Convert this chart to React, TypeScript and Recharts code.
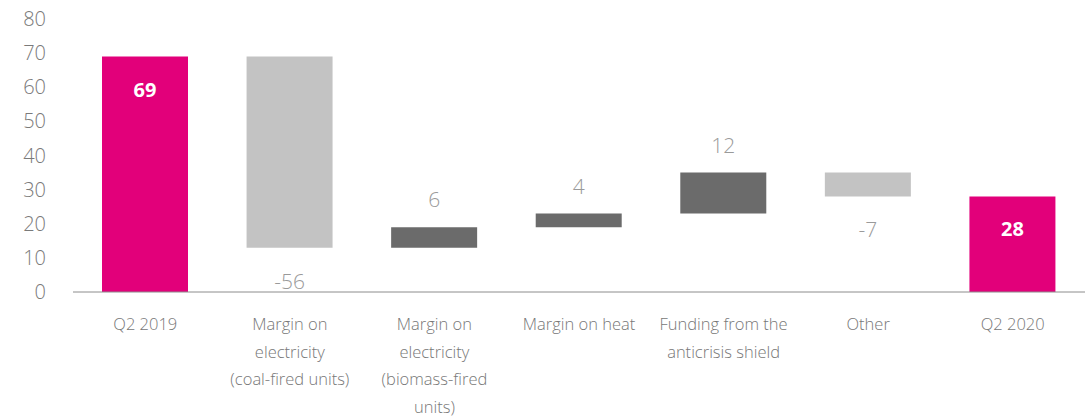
import { BarChart, Bar, XAxis, YAxis, Cell, LabelList } from "recharts";

const categories = [
  ["Q2 2019"],
  ["Margin on", "electricity", "(coal-fired units)"],
  ["Margin on", "electricity", "(biomass-fired", "units)"],
  ["Margin on heat"],
  ["Funding from the", "anticrisis shield"],
  ["Other"],
  ["Q2 2020"],
];
const amounts = [69, -56, 6, 4, 12, -7, 28];
const isTotal = [true, false, false, false, false, false, true];
const yTicks = [0, 10, 20, 30, 40, 50, 60, 70, 80];

const MAGENTA = "#e2007a";
const LIGHT = "#c3c3c3";
const DARK = "#6b6b6b";
const FONT = "'Open Sans', Lato, sans-serif";

// running total -> invisible base + visible step
let running = 0;
const data = amounts.map((v, i) => {
  if (isTotal[i]) {
    running = v;
    return { name: i, base: 0, step: v, amount: v, total: true };
  }
  const start = running;
  running += v;
  return { name: i, base: Math.min(start, running), step: Math.abs(v), amount: v, total: false };
});

const colorFor = (d: any) => (d.total ? MAGENTA : d.amount < 0 ? LIGHT : DARK);

const CategoryTick = (props: any) => {
  const { x, y, payload } = props;
  const lines = categories[payload.value] || [];
  return (
    <g transform={`translate(${x},${y})`}>
      {lines.map((t, k) => (
        <text key={k} x={0} y={30 + k * 27.7} textAnchor="middle" fill="#777" fontSize={16.5} fontWeight={300} fontFamily={FONT}>
          {t}
        </text>
      ))}
    </g>
  );
};

const StepLabel = (props: any) => {
  const { x, y, width, height, index } = props;
  const d = data[index];
  const cx = x + width / 2;
  if (d.total) {
    return (
      <text x={cx} y={y + 40} textAnchor="middle" fill="#fff" fontSize={20} fontWeight="bold" fontFamily={FONT}>
        {d.amount}
      </text>
    );
  }
  if (d.amount < 0) {
    return (
      <text x={cx} y={y + height + 41} textAnchor="middle" fill="#9a9a9a" fontSize={21} fontWeight={300} fontFamily={FONT}>
        {d.amount}
      </text>
    );
  }
  return (
    <text x={cx} y={y - 20} textAnchor="middle" fill="#9a9a9a" fontSize={21} fontWeight={300} fontFamily={FONT}>
      {d.amount}
    </text>
  );
};

export default function App() {
  return (
    <div style={{ position: "absolute", left: 0, top: 0, background: "#fff" }}>
      <BarChart width={1085} height={417} data={data} margin={{ top: 19, right: 0, bottom: 0, left: 0 }} barSize={86}>
        <XAxis
          dataKey="name"
          height={125}
          tickLine={false}
          axisLine={{ stroke: "#8c8c8c" }}
          tick={<CategoryTick />}
          interval={0}
        />
        <YAxis
          width={73}
          domain={[0, 80]}
          ticks={yTicks}
          axisLine={false}
          tickLine={false}
          tickSize={0}
          tickMargin={27}
          tick={{ fill: "#7a7a7a", fontSize: 20, fontWeight: 300, fontFamily: FONT }}
        />
        <Bar dataKey="base" stackId="w" fill="transparent" isAnimationActive={false} />
        <Bar dataKey="step" stackId="w" isAnimationActive={false}>
          {data.map((d, i) => (
            <Cell key={i} fill={colorFor(d)} />
          ))}
          <LabelList dataKey="amount" content={<StepLabel />} />
        </Bar>
      </BarChart>
    </div>
  );
}
